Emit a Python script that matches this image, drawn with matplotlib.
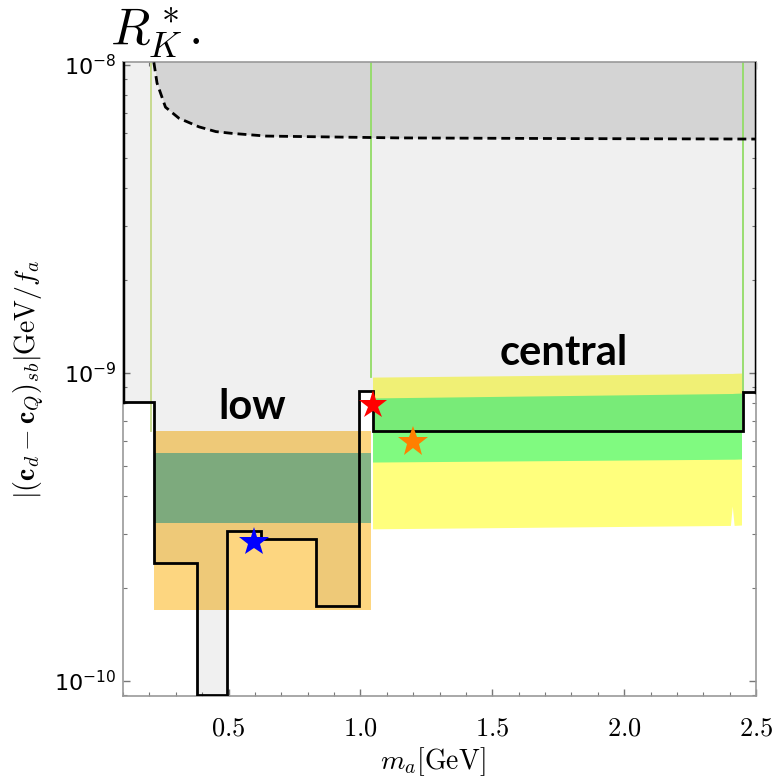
import numpy as np
import matplotlib
matplotlib.use("Agg")
import matplotlib.pyplot as plt
from matplotlib.ticker import FixedLocator, FuncFormatter, LogLocator, NullFormatter

plt.rcParams['mathtext.fontset'] = 'cm'

# limite (contour noir en escalier)
step_edges = [0.1, 0.217, 0.380, 0.494, 0.624, 0.833, 0.996, 1.046, 2.452, 2.5]
step_levels = [8.07e-10, 2.41e-10, 0.90e-10, 3.07e-10, 2.89e-10, 1.75e-10, 8.74e-10, 6.48e-10, 8.67e-10]

# courbe en pointillés
dash_x = [0.217, 0.229, 0.261, 0.312, 0.388, 0.452, 0.513, 0.643, 0.894, 1.148, 1.8, 2.5]
dash_y = [1.02e-8, 8.74e-9, 7.3e-9, 6.72e-9, 6.30e-9, 6.08e-9, 6.0e-9, 5.88e-9, 5.84e-9, 5.80e-9, 5.77e-9, 5.75e-9]

# bande "low"
low_x = [0.217, 1.04]
low_outer = [1.70e-10, 6.48e-10]
low_inner = [3.26e-10, 5.49e-10]

# bande "central"
cen_x = [1.046, 2.403, 2.410, 2.417, 2.445]
cen_yellow_top = [9.70e-10, 9.97e-10, 9.97e-10, 9.98e-10, 1.0e-9]
cen_green_top = [8.30e-10, 8.58e-10, 8.58e-10, 8.59e-10, 8.61e-10]
cen_green_bot = [5.14e-10, 5.25e-10, 5.25e-10, 5.25e-10, 5.26e-10]
cen_yellow_bot = [3.12e-10, 3.20e-10, 3.70e-10, 3.20e-10, 3.21e-10]

# lignes verticales fines
vline_x = [0.207, 1.042, 2.452]
vline_bottom = [6.48e-10, 9.70e-10, 8.67e-10]
vline_colors = ['#c4d888', '#92dc66', '#92dc66']

# étoiles
star_x = [0.597, 1.046, 1.198]
star_y = [2.82e-10, 7.87e-10, 5.97e-10]
star_colors = ['#0000ff', '#ff0000', '#ff7f00']
star_sizes = [22, 21, 23]

x_ticks = [0.5, 1.0, 1.5, 2.0, 2.5]
y_min, y_max = 0.894e-10, 1.023e-8

fig = plt.figure(figsize=(7.74, 7.84), dpi=100)
ax = fig.add_axes([123 / 774, 88 / 784, 633 / 774, 634 / 784])

# bandes (opaques, le gris est superposé ensuite)
ax.fill_between(low_x, low_outer[0], low_outer[1], color='#fdd680', lw=0, zorder=1)
ax.fill_between(low_x, low_inner[0], low_inner[1], color='#85b585', lw=0, zorder=1.1)
ax.fill_between(cen_x, cen_yellow_bot, cen_yellow_top, color='#ffff7d', lw=0, zorder=1)
ax.fill_between(cen_x, cen_green_bot, cen_green_top, color='#80fa80', lw=0, zorder=1.1)

# zone exclue (gris clair au-dessus du contour)
ax.stairs(step_levels, step_edges, baseline=y_max * 1.5, fill=True,
          color='black', alpha=0.059, lw=0, zorder=2)
ax.fill_between(dash_x, dash_y, y_max * 1.5, color='#d4d4d4', lw=0, zorder=2.1)

for xv, yb, c in zip(vline_x, vline_bottom, vline_colors):
    ax.plot([xv, xv], [yb, y_max * 1.5], color=c, lw=1.3, zorder=2.5)

# contour noir
ax.stairs(step_levels, step_edges, baseline=None, color='black', lw=2.0, zorder=3)
ax.plot([step_edges[0]] * 2, [step_levels[0], y_max * 1.5], color='black', lw=2.5, zorder=3)
ax.plot([step_edges[-1]] * 2, [step_levels[-1], y_max * 1.5], color='black', lw=2.5, zorder=3)
ax.plot(dash_x, dash_y, color='black', lw=2.0, dashes=(3.2, 1.8), zorder=3)

for xs, ys, c, s in zip(star_x, star_y, star_colors, star_sizes):
    ax.plot(xs, ys, marker='*', color=c, markersize=s, markeredgewidth=0, zorder=4)

ax.text(0.589, 7.76e-10, 'low', family='Lato', fontweight='bold', fontsize=30,
        ha='center', va='center', zorder=5)
ax.text(1.77, 1.16e-9, 'central', family='Lato', fontweight='bold', fontsize=30,
        ha='center', va='center', zorder=5)

ax.set_yscale('log')
ax.set_xlim(0.1, 2.5)
ax.set_ylim(y_min, y_max)

ax.xaxis.set_major_locator(FixedLocator(x_ticks))
ax.xaxis.set_minor_locator(FixedLocator(np.arange(0.1, 2.5, 0.1)))
ax.xaxis.set_major_formatter(FuncFormatter(lambda v, p: f'${v:.1f}$'))
ax.yaxis.set_major_locator(LogLocator(base=10))
ax.yaxis.set_minor_locator(LogLocator(base=10, subs=np.arange(2, 10)))
ax.yaxis.set_minor_formatter(NullFormatter())

ax.tick_params(which='both', direction='in', top=True, right=True, color='#777777')
ax.tick_params(which='major', length=5, width=1)
ax.tick_params(which='minor', length=3, width=0.8)
ax.tick_params(axis='x', pad=14, labelsize=19)
ax.tick_params(axis='y', pad=5, labelsize=16)
for sp in ax.spines.values():
    sp.set_color('#999999')
    sp.set_linewidth(1.2)

ax.set_xlabel(r'$m_a[\mathrm{GeV}]$', fontsize=20)
ax.xaxis.set_label_coords(0.49, -0.077)
ax.set_ylabel(r'$|(\mathbf{c}_d-\mathbf{c}_Q)_{sb}|\mathrm{GeV}/f_a$', fontsize=20)
ax.yaxis.set_label_coords(-0.12, 0.5)

fig.text(110 / 774, 1 - 45 / 784, r'$R^*_K.$', fontsize=37, ha='left', va='baseline')

fig.savefig('out.png', dpi=100)
